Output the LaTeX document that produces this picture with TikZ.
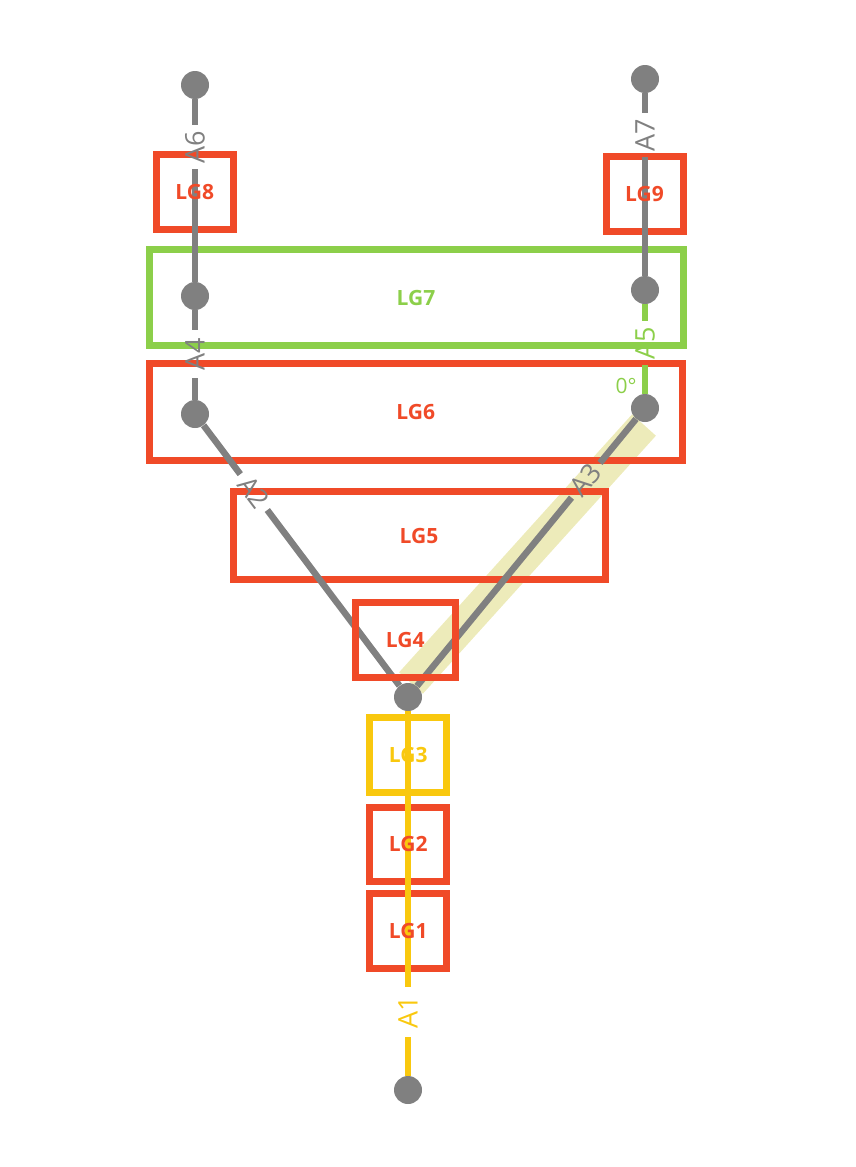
\documentclass[tikz,border=0pt]{standalone}
\usepackage{fontspec}
\setmainfont{Open Sans}
\usetikzlibrary{calc}
\definecolor{lgred}{HTML}{F04A28}
\definecolor{lggreen}{HTML}{8CCF4A}
\definecolor{lgyellow}{HTML}{F9C80E}
\definecolor{wiregray}{HTML}{808080}
\definecolor{bandyellow}{HTML}{EDEBBA}
\begin{document}
\begin{tikzpicture}[x=1pt,y=-1pt,
    joint/.style={circle,fill=wiregray,minimum size=28},
    box/.style={draw=#1,line width=7,minimum width=77,minimum height=75},
    lg/.style={text=#1,font=\fontsize{21}{21}\selectfont\bfseries},
    wire/.style={draw=#1,line width=6.5},
    tag/.style={text=#1,font=\fontsize{27}{27}\selectfont,inner sep=6}]
	\tikzstyle{every node}+=[inner sep=0pt]
	\useasboundingbox (0,0) rectangle (856,1167);
	% band under A3
	\draw [bandyellow,line width=32] (644,425) -- (411,683);
	% joints
	\node [joint] (l1) at (195,85) {};
	\node [joint] (l2) at (195,296) {};
	\node [joint] (l3) at (195,414) {};
	\node [joint] (r1) at (645,79) {};
	\node [joint] (r2) at (645,290) {};
	\node [joint] (r3) at (645,408) {};
	\node [joint] (hub) at (408,697) {};
	\node [joint] (foot) at (408,1090) {};
	% frames
	\node [box=lgred] (lg8) at (194.8,192) {};
	\node [box=lgred] (lg9) at (644.5,193.8) {};
	\node [box=lggreen,minimum width=534,minimum height=96] (lg7) at (416,297.5) {};
	\node [box=lgred,minimum width=533.5,minimum height=96.3] (lg6) at (415.8,411.9) {};
	\node [box=lgred,minimum width=372,minimum height=88.3] (lg5) at (419,535.8) {};
	\node [box=lgyellow] (lg3) at (408.3,754.5) {};
	\node [box=lgred,minimum height=74] (lg2) at (408.3,844) {};
	\node [box=lgred] (lg1) at (408.3,930.5) {};
	% wire tags
	\node [tag=wiregray,rotate=90] (a6) at (195,147) {A6};
	\node [tag=wiregray,rotate=90,inner sep=8] (a4) at (195,354) {A4};
	\node [tag=wiregray,rotate=-53] (a2) at ($(l3)!0.276!(hub)$) {A2};
	\node [tag=wiregray,rotate=90] (a7) at (645,135) {A7};
	\node [tag=lggreen,rotate=90] (a5) at (645,343) {A5};
	\node [tag=wiregray,rotate=50.5] (a3) at ($(r3)!0.25!(hub)$) {A3};
	\node [tag=lgyellow,rotate=90,inner sep=9] (a1) at (408,1012) {A1};
	\node [text=lggreen,font=\fontsize{21}{21}\selectfont] (deg) at (626,386) {0°};
	% wires
	\draw [wire=wiregray] (l1) -- (a6) (a6) -- (l2);
	\draw [wire=wiregray] (l2) -- (a4) (a4) -- (l3);
	\draw [wire=wiregray] (l3) -- (a2) (a2) -- (hub);
	\draw [wire=wiregray] (r1) -- (a7) (a7) -- (r2);
	\draw [wire=lggreen] (r2) -- (a5) (a5) -- (r3);
	\draw [wire=wiregray] (r3) -- (a3) (a3) -- (hub);
	\draw [wire=lgyellow] (hub) -- (a1) (a1) -- (foot);
	\node [box=lgred,minimum width=100,minimum height=75.5] (lg4) at (405.3,639.8) {};
	% frame texts
	\node [lg=lgred] (t8) at (lg8) {LG8};
	\node [lg=lgred] (t9) at (lg9) {LG9};
	\node [lg=lggreen] (t7) at (lg7) {LG7};
	\node [lg=lgred] (t6) at (lg6) {LG6};
	\node [lg=lgred] (t5) at (lg5) {LG5};
	\node [lg=lgred] (t4) at (lg4) {LG4};
	\node [lg=lgyellow] (t3) at (lg3) {LG3};
	\node [lg=lgred] (t2) at (lg2) {LG2};
	\node [lg=lgred] (t1) at (lg1) {LG1};
\end{tikzpicture}
\end{document}
